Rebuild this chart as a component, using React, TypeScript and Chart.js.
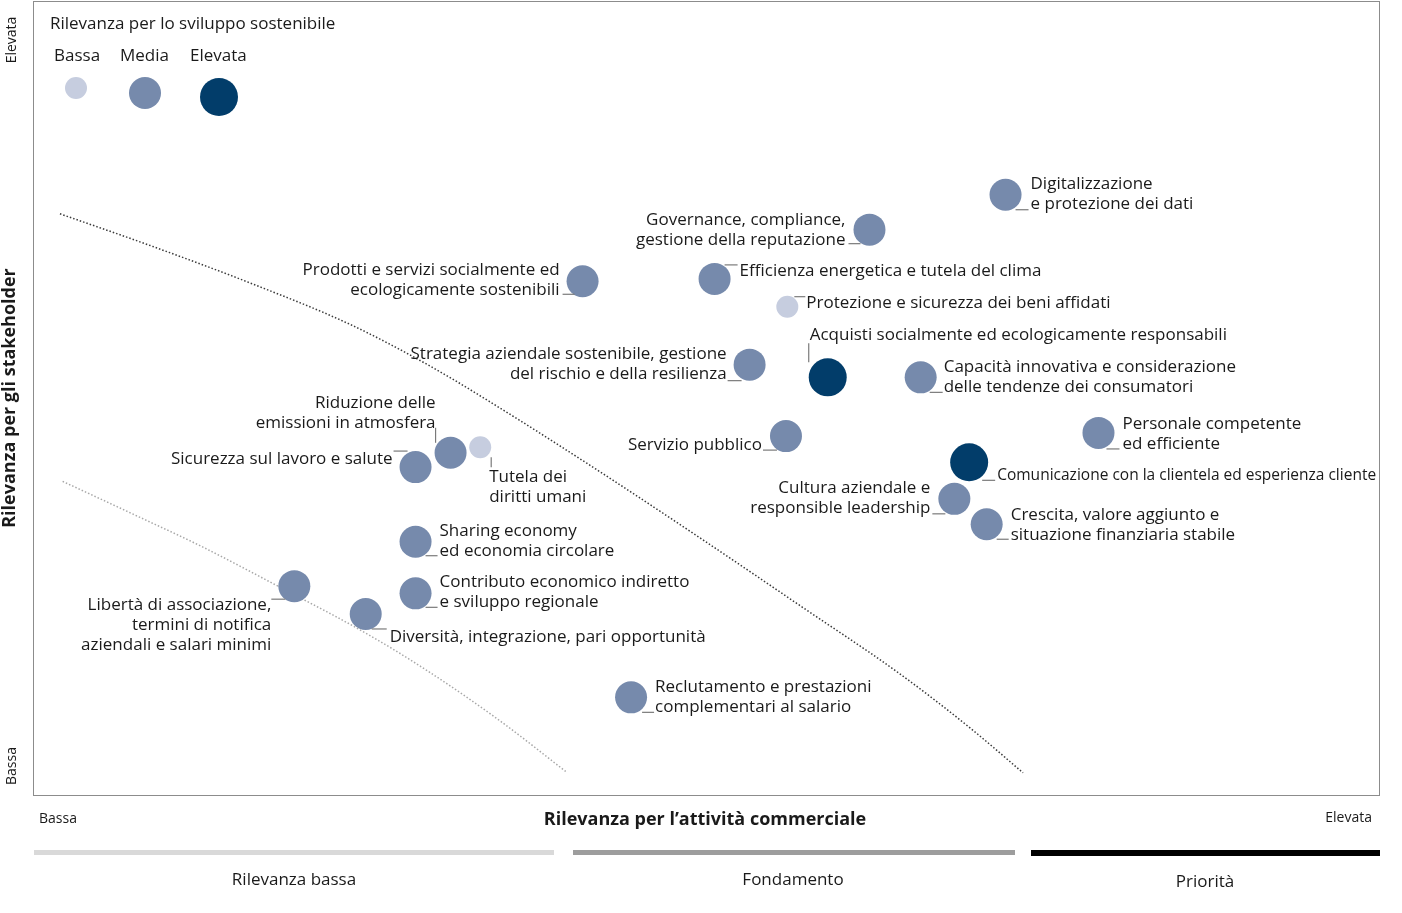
import React, { useEffect, useRef } from "react";
import { Chart, registerables } from "chart.js";

Chart.register(...registerables);

// ---------- DATA ----------
const topicLabels: string[][] = [
  ["Digitalizzazione", "e protezione dei dati"],
  ["Governance, compliance,", "gestione della reputazione"],
  ["Prodotti e servizi socialmente ed", "ecologicamente sostenibili"],
  ["Efficienza energetica e tutela del clima"],
  ["Protezione e sicurezza dei beni affidati"],
  ["Acquisti socialmente ed ecologicamente responsabili"],
  ["Strategia aziendale sostenibile, gestione", "del rischio e della resilienza"],
  ["Capacità innovativa e considerazione", "delle tendenze dei consumatori"],
  ["Servizio pubblico"],
  ["Personale competente", "ed efficiente"],
  ["Comunicazione con la clientela ed esperienza cliente"],
  ["Cultura aziendale e", "responsible leadership"],
  ["Crescita, valore aggiunto e", "situazione finanziaria stabile"],
  ["Riduzione delle", "emissioni in atmosfera"],
  ["Tutela dei", "diritti umani"],
  ["Sicurezza sul lavoro e salute"],
  ["Sharing economy", "ed economia circolare"],
  ["Contributo economico indiretto", "e sviluppo regionale"],
  ["Libertà di associazione,", "termini di notifica", "aziendali e salari minimi"],
  ["Diversità, integrazione, pari opportunità"],
  ["Reclutamento e prestazioni", "complementari al salario"],
];

// Rilevanza per l'attività commerciale (0–100)
const businessRelevance = [
  72.2, 62.1, 40.8, 50.6, 56.0, 59.0, 53.2, 65.9, 55.9, 79.1, 69.5,
  68.4, 70.8, 31.0, 33.2, 28.4, 28.4, 28.4, 19.4, 24.7, 44.4,
];
// Rilevanza per gli stakeholder (0–100)
const stakeholderRelevance = [
  75.6, 71.2, 64.7, 65.0, 61.5, 52.6, 54.2, 52.6, 45.2, 45.6, 41.9,
  37.3, 34.1, 43.1, 43.8, 41.3, 31.9, 25.4, 26.3, 22.8, 12.3,
];
// Rilevanza per lo sviluppo sostenibile: 0 = Bassa, 1 = Media, 2 = Elevata
const sustainabilityLevel = [
  1, 1, 1, 1, 0, 2, 1, 1, 1, 1, 2, 1, 1, 1, 0, 1, 1, 1, 1, 1, 1,
];
const levelNames = ["Bassa", "Media", "Elevata"];

// Threshold curves
const outerCurveX = [2.0, 8.7, 16.1, 23.5, 29.5, 34.7, 42.1, 49.5, 56.9, 64.4, 69.6, 73.5];
const outerCurveY = [73.2, 69.2, 64.5, 59.3, 54.0, 48.7, 40.7, 32.4, 23.9, 15.2, 8.4, 2.8];
const innerCurveX = [2.2, 7.9, 12.4, 18.3, 24.9, 29.5, 34.7, 39.6];
const innerCurveY = [39.5, 35.0, 31.4, 26.2, 20.2, 15.4, 9.3, 2.9];

const zoneLabels = ["Rilevanza bassa", "Fondamento", "Priorità"];
const legendTitle = "Rilevanza per lo sviluppo sostenibile";
const xAxisTitle = "Rilevanza per l’attività commerciale";
const yAxisTitle = "Rilevanza per gli stakeholder";
const axisEnds = ["Bassa", "Elevata"];

// ---------- STYLE / LAYOUT ----------
const W = 1402;
const H = 913;
const FONT = "'Open Sans', 'Noto Sans', sans-serif";
const levelColors = ["#c6cddf", "#768aac", "#023d6a"];
const levelRadius = [11, 16, 19];
const LINE_H = 20;

type Lay = { align: "left" | "right"; tx: number; ty: number; lead: number[]; maxW?: number };
const labelLayout: Lay[] = [
  { align: "left", tx: 25, ty: -11, lead: [10, 15, 23, 15] },
  { align: "right", tx: -24, ty: -10, lead: [-21, 14, -9, 14] },
  { align: "right", tx: -23, ty: -11, lead: [-20, 13, -8, 13] },
  { align: "left", tx: 25, ty: -8, lead: [10, -14, 23, -14] },
  { align: "left", tx: 19, ty: -4, lead: [7, -10, 18, -10] },
  { align: "left", tx: -18, ty: -42, lead: [-19, -34, -19, -15] },
  { align: "right", tx: -23, ty: -10, lead: [-22, 16, -8, 16] },
  { align: "left", tx: 23, ty: -10, lead: [9, 15, 22, 15] },
  { align: "right", tx: -24, ty: 9, lead: [-23, 14, -9, 14] },
  { align: "left", tx: 24, ty: -9, lead: [8, 16, 21, 16] },
  { align: "left", tx: 28, ty: 13, lead: [13, 18, 26, 18], maxW: 379 },
  { align: "right", tx: -24, ty: -11, lead: [-22, 15, -9, 15] },
  { align: "left", tx: 24, ty: -9, lead: [10, 15, 22, 15] },
  { align: "right", tx: -15, ty: -50, lead: [-15, -25, -15, -10] },
  { align: "left", tx: 9, ty: 30, lead: [11, 10, 11, 20] },
  { align: "right", tx: -23, ty: -8, lead: [-22, -16, -8, -16] },
  { align: "left", tx: 24, ty: -11, lead: [10, 14, 22, 14] },
  { align: "left", tx: 24, ty: -11, lead: [10, 14, 22, 14] },
  { align: "right", tx: -23, ty: 19, lead: [-23, 13, -9, 13] },
  { align: "left", tx: 24, ty: 23, lead: [6, 15, 21, 15] },
  { align: "left", tx: 24, ty: -10, lead: [11, 15, 23, 15] },
];

const decorPlugin = {
  id: "decor",
  beforeDatasetsDraw(chart: any) {
    const { ctx, chartArea: a } = chart;
    ctx.save();
    ctx.strokeStyle = "#8c8c8c";
    ctx.lineWidth = 1;
    ctx.strokeRect(a.left + 0.5, a.top + 0.5, a.right - a.left - 1, a.bottom - a.top);
    ctx.restore();
  },
  afterDatasetsDraw(chart: any) {
    const { ctx } = chart;
    ctx.save();
    ctx.fillStyle = "#1a1a1a";
    ctx.textBaseline = "middle";

    // topic labels
    const idxByLevel: number[][] = [[], [], []];
    sustainabilityLevel.forEach((l, i) => idxByLevel[l].push(i));
    for (let lv = 0; lv < 3; lv++) {
      const meta = chart.getDatasetMeta(2 + lv);
      idxByLevel[lv].forEach((ti, k) => {
        const el = meta.data[k];
        if (!el) return;
        const lay = labelLayout[ti];
        const px = el.x;
        const py = el.y;
        ctx.font = `17px ${FONT}`;
        ctx.textAlign = lay.align;
        ctx.fillStyle = "#1a1a1a";
        topicLabels[ti].forEach((line, li) => {
          if (lay.maxW) ctx.fillText(line, px + lay.tx, py + lay.ty + li * LINE_H, lay.maxW);
          else ctx.fillText(line, px + lay.tx, py + lay.ty + li * LINE_H);
        });
        ctx.strokeStyle = "#7a7a7a";
        ctx.lineWidth = 1.2;
        ctx.beginPath();
        ctx.moveTo(px + lay.lead[0], py + lay.lead[1]);
        ctx.lineTo(px + lay.lead[2], py + lay.lead[3]);
        ctx.stroke();
      });
    }

    // legend
    ctx.textAlign = "left";
    ctx.font = `17px ${FONT}`;
    ctx.fillStyle = "#1a1a1a";
    ctx.fillText(legendTitle, 50, 24);
    const legX = [54, 120, 190];
    const dotX = [76, 145, 219];
    const dotY = [88, 93, 97];
    levelNames.forEach((n, i) => {
      ctx.fillStyle = "#1a1a1a";
      ctx.fillText(n, legX[i], 56);
      ctx.fillStyle = levelColors[i];
      ctx.beginPath();
      ctx.arc(dotX[i], dotY[i], levelRadius[i], 0, Math.PI * 2);
      ctx.fill();
    });

    // axis titles
    ctx.fillStyle = "#1a1a1a";
    ctx.font = `bold 18px ${FONT}`;
    ctx.textAlign = "center";
    ctx.fillText(xAxisTitle, 705, 820);
    ctx.save();
    ctx.translate(10, 398);
    ctx.rotate(-Math.PI / 2);
    ctx.fillText(yAxisTitle, 0, 0);
    ctx.restore();

    // axis ends
    ctx.font = `14px ${FONT}`;
    ctx.textAlign = "left";
    ctx.fillText(axisEnds[0], 39, 819);
    ctx.textAlign = "right";
    ctx.fillText(axisEnds[1], 1372, 818);
    ctx.save();
    ctx.translate(12, 40);
    ctx.rotate(-Math.PI / 2);
    ctx.textAlign = "center";
    ctx.fillText(axisEnds[1], 0, 0);
    ctx.restore();
    ctx.save();
    ctx.translate(12, 766);
    ctx.rotate(-Math.PI / 2);
    ctx.textAlign = "center";
    ctx.fillText(axisEnds[0], 0, 0);
    ctx.restore();

    // zone bars
    const bars = [
      { x0: 34, x1: 554, y: 850, h: 5, c: "#d9d9d9", cx: 294, ty: 880 },
      { x0: 573, x1: 1015, y: 850, h: 5, c: "#9d9d9d", cx: 793, ty: 880 },
      { x0: 1031, x1: 1380, y: 850, h: 6, c: "#000000", cx: 1205, ty: 882 },
    ];
    ctx.font = `17px ${FONT}`;
    ctx.textAlign = "center";
    bars.forEach((b, i) => {
      ctx.fillStyle = b.c;
      ctx.fillRect(b.x0, b.y, b.x1 - b.x0, b.h);
      ctx.fillStyle = "#1a1a1a";
      ctx.fillText(zoneLabels[i], b.cx, b.ty);
    });
    ctx.restore();
  },
};

export default function App() {
  const ref = useRef<HTMLCanvasElement>(null);
  useEffect(() => {
    if (!ref.current) return;
    const bubbleSets = [0, 1, 2].map((lv) => ({
      type: "bubble" as const,
      label: levelNames[lv],
      data: businessRelevance
        .map((x, i) => ({ x, y: stakeholderRelevance[i], r: levelRadius[lv], l: sustainabilityLevel[i] }))
        .filter((d) => d.l === lv),
      backgroundColor: levelColors[lv],
      borderWidth: 0,
      order: 1,
    }));
    const chart = new Chart(ref.current, {
      type: "bubble",
      data: {
        datasets: [
          {
            type: "line" as const,
            label: "outer",
            data: outerCurveX.map((x, i) => ({ x, y: outerCurveY[i] })),
            borderColor: "#3a3a3a",
            borderWidth: 1.5,
            borderDash: [1.5, 2],
            pointRadius: 0,
            fill: false,
            cubicInterpolationMode: "monotone",
            order: 5,
          } as any,
          {
            type: "line" as const,
            label: "inner",
            data: innerCurveX.map((x, i) => ({ x, y: innerCurveY[i] })),
            borderColor: "#a8a8a8",
            borderWidth: 1.5,
            borderDash: [1.5, 2],
            pointRadius: 0,
            fill: false,
            cubicInterpolationMode: "monotone",
            order: 5,
          } as any,
          ...bubbleSets,
        ],
      },
      options: {
        responsive: false,
        animation: false,
        devicePixelRatio: 1,
        events: [],
        layout: { autoPadding: false, padding: { left: 33, top: 1, right: 22, bottom: 118 } },
        scales: {
          x: { type: "linear", min: 0, max: 100, display: false },
          y: { type: "linear", min: 0, max: 100, display: false },
        },
        plugins: { legend: { display: false }, tooltip: { enabled: false } },
        elements: { point: { hoverRadius: 0 } },
        clip: false as any,
      } as any,
      plugins: [decorPlugin],
    });
    return () => chart.destroy();
  }, []);
  return (
    <div style={{ position: "absolute", left: 0, top: 0, width: W, height: H, background: "#fff" }}>
      <canvas ref={ref} width={W} height={H} style={{ width: W, height: H, display: "block" }} />
    </div>
  );
}
